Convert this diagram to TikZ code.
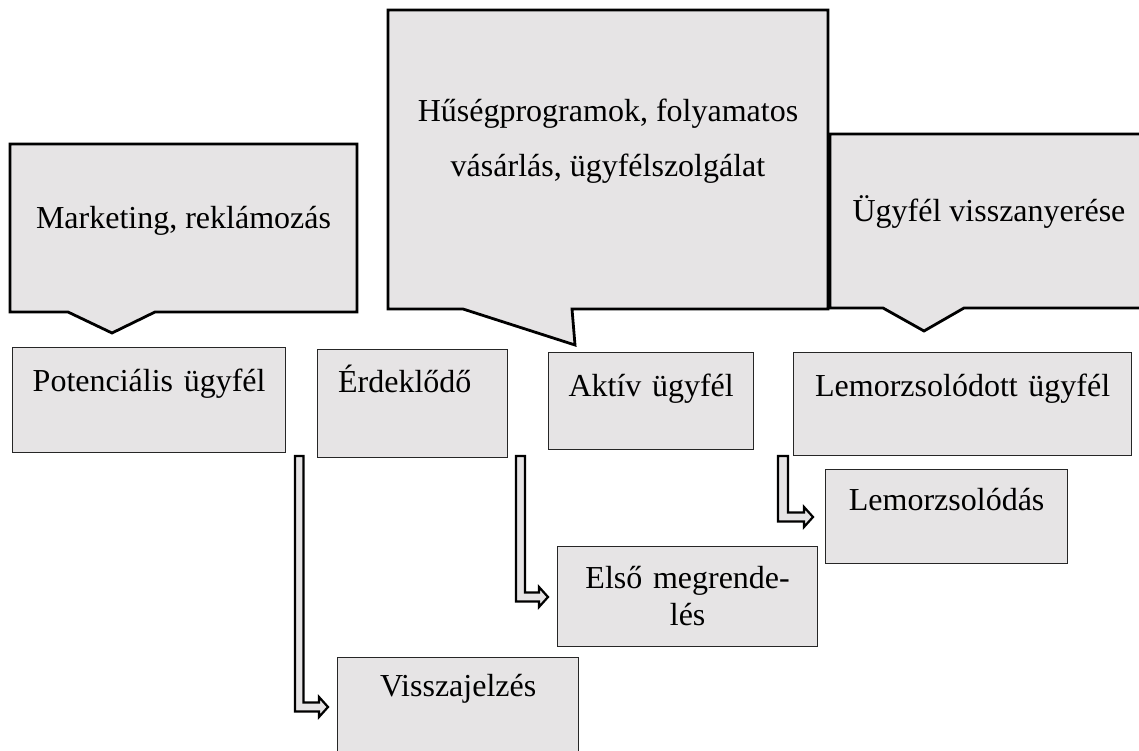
\documentclass[tikz,border=0pt]{standalone}
\usepackage{fontspec}
\setmainfont{Liberation Serif}
\usetikzlibrary{calc}
\definecolor{boxfill}{RGB}{230,228,229}
\tikzset{
  callshape/.style={fill=boxfill, draw=black, line width=2.8pt, line join=miter},
  calltext/.style={anchor=base, inner sep=0pt, font=\fontsize{32}{55}\selectfont},
  stagebox/.style={draw=black!85, fill=boxfill, line width=1.3pt, inner xsep=0pt, inner ysep=0pt,
    anchor=north west, font=\fontsize{32}{37}\selectfont, align=center},
  harrow/.style={draw=black, fill=boxfill, line width=2.2pt, line join=miter},
}
\newcommand\hollowL[3]{%
  \draw[harrow] let \p1=(#1), \p2=(#2) in
    (\x1,\y1) -- (\x1+#3,\y1) -- (\x1+#3,\y2+4.5pt) -- (\x2-9pt,\y2+4.5pt) -- (\x2-9pt,\y2+10pt)
    -- (\x2,\y2) -- (\x2-9pt,\y2-10pt) -- (\x2-9pt,\y2-4.5pt) -- (\x1,\y2-4.5pt) -- cycle;}
\begin{document}
\begin{tikzpicture}[x=1pt,y=-1pt]
\clip (0,0) rectangle (1139,751);
\fill[white] (0,0) rectangle (1139,751);

% callouts
\draw[callshape] (10,144) -- (357,144) -- (357,312) -- (155,312) -- (112,333) -- (68,312) -- (10,312) -- cycle;
\node[calltext] (mk) at (183.5,229) {Marketing, reklámozás};

\draw[callshape] (388,10) -- (828,10) -- (828,309) -- (572,309) -- (575,345) -- (463,309) -- (388,309) -- cycle;
\node[calltext] (hus) at (608,122) {\begin{tabular}[t]{@{}c@{}}Hűségprogramok, folyamatos\\ vásárlás, ügyfélszolgálat\end{tabular}};

\draw[callshape] (830,134) -- (1150,134) -- (1150,308) -- (964,308) -- (924,331) -- (883,308) -- (830,308) -- cycle;
\node[calltext] (ugy) at (989,222) {Ügyfél visszanyerése};

% stage boxes
\node[stagebox, text width=273pt, text height=44pt, text depth=61pt] (pot) at (12,347) {Potenciális ügyfél};
\node[stagebox, text width=149pt, inner xsep=20.5pt, align=left, text height=43pt, text depth=65pt] (erd) at (317,349) {Érdeklődő};
\node[stagebox, text width=205pt, text height=44pt, text depth=53pt] (akt) at (548,352) {Aktív ügyfél};
\node[stagebox, text width=338pt, text height=44pt, text depth=59pt] (lemo) at (793,352) {Lemorzsolódott ügyfél};
\node[stagebox, text width=242pt, text height=41pt, text depth=53pt] (lemd) at (825,469) {Lemorzsolódás};
\node[stagebox, text width=260pt, text height=42pt, text depth=58pt] (elso) at (557,546) {Első megrende-\\lés};
\node[stagebox, text width=241pt, text height=39pt, text depth=80pt] (visz) at (337,657) {Visszajelzés};

% hollow L arrows
\coordinate (s1) at (295,456);
\coordinate (s2) at (516,456);
\coordinate (s3) at (778,456);
\coordinate (t1) at ($(visz.north west)+(-9,50)$);
\coordinate (t2) at ($(elso.north west)+(-9,51)$);
\coordinate (t3) at ($(lemd.north west)+(-12,48)$);
\hollowL{s1}{t1}{8.5pt}
\hollowL{s2}{t2}{9pt}
\hollowL{s3}{t3}{10pt}
\end{tikzpicture}
\end{document}
